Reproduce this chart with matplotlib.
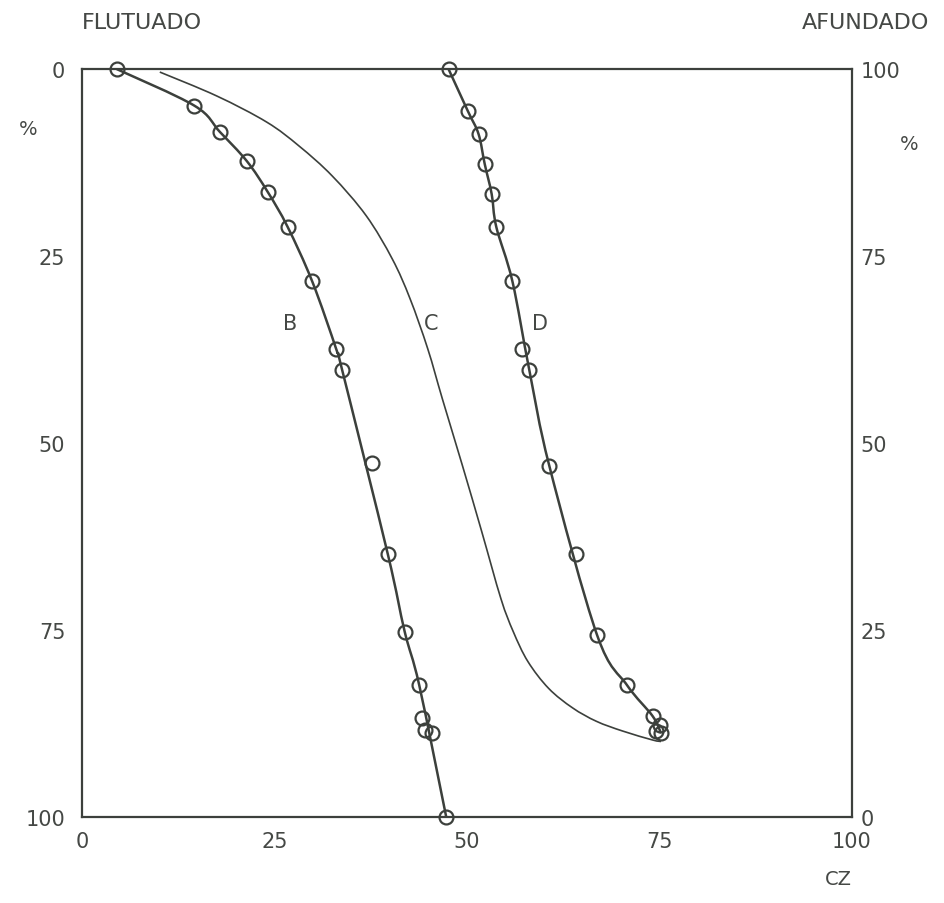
import numpy as np
import matplotlib.pyplot as plt
from matplotlib.path import Path
from matplotlib.patches import PathPatch

# curva B (flutuado) - pontos medidos
b_cz = [4.5, 14.6, 17.9, 21.4, 24.1, 26.7, 29.9, 33.0, 33.8, 37.6, 39.7, 41.9, 43.8, 44.1, 44.5, 45.4, 47.3]
b_pct = [0, 4.9, 8.4, 12.3, 16.4, 21.1, 28.4, 37.4, 40.3, 52.7, 64.8, 75.2, 82.4, 86.8, 88.4, 88.8, 100]

# curva D (afundado)
d_cz = [47.6, 50.1, 51.5, 52.3, 53.2, 53.8, 55.9, 57.1, 58.1, 60.7, 64.2, 66.9, 70.8, 74.1, 75.0, 74.6, 75.2]
d_pct = [0, 5.6, 8.7, 12.7, 16.7, 21.1, 28.4, 37.4, 40.3, 53.1, 64.8, 75.7, 82.4, 86.5, 87.7, 88.5, 88.8]

# curva C (sem pontos)
c_cz = [10.1, 17.5, 24.0, 28.2, 32.5, 36.9, 40.3, 42.6, 44.9, 46.8, 49.4, 51.9, 54.4, 56.0, 57.9,
        60.6, 63.7, 66.8, 70.2, 74.1, 75.2]
c_pct = [0.4, 3.6, 7.1, 10.3, 14.3, 19.6, 25.4, 30.7, 37.4, 44.1, 53.0, 61.8, 70.8, 75.2, 79.2,
         82.8, 85.4, 87.2, 88.5, 89.7, 89.9]

# which markers the drawn B/D curves pass through
b_line = [0, 1, 2, 3, 4, 5, 6, 7, 8, 10, 11, 12, 16]
d_line = [0, 1, 2, 3, 4, 5, 6, 8, 9, 11, 12, 13, 16]

ticks = [0, 25, 50, 75, 100]
ink = '#3c403c'
txt = '#454845'


def smooth_path(xs, ys):
    # Catmull-Rom -> bezier so the curve passes through every point
    p = np.column_stack([xs, ys]).astype(float)
    verts = [p[0]]
    codes = [Path.MOVETO]
    for i in range(len(p) - 1):
        p0 = p[i - 1] if i > 0 else p[i]
        p1, p2 = p[i], p[i + 1]
        p3 = p[i + 2] if i + 2 < len(p) else p[i + 1]
        verts += [p1 + (p2 - p0) / 6, p2 - (p3 - p1) / 6, p2]
        codes += [Path.CURVE4] * 3
    return Path(verts, codes)


fig = plt.figure(figsize=(9.45, 9.04), dpi=100)
ax = fig.add_axes([0.0868, 0.0951, 0.8148, 0.8274])
ax.set_xlim(0, 100)
ax.set_ylim(100, 0)

ax.add_patch(PathPatch(smooth_path([b_cz[i] for i in b_line], [b_pct[i] for i in b_line]),
                       fill=False, edgecolor=ink, lw=1.8))
ax.add_patch(PathPatch(smooth_path([d_cz[i] for i in d_line], [d_pct[i] for i in d_line]),
                       fill=False, edgecolor=ink, lw=1.8))
ax.add_patch(PathPatch(smooth_path(c_cz, c_pct), fill=False, edgecolor=ink, lw=1.2))

ax.plot(b_cz, b_pct, 'o', ms=10, mfc='none', mec=ink, mew=1.6, clip_on=False)
ax.plot(d_cz, d_pct, 'o', ms=10, mfc='none', mec=ink, mew=1.6, clip_on=False)

ax.text(27, 34, 'B', fontsize=15, color=txt, ha='center', va='center')
ax.text(45.4, 34, 'C', fontsize=15, color=txt, ha='center', va='center')
ax.text(59.5, 34, 'D', fontsize=15, color=txt, ha='center', va='center')

for s in ax.spines.values():
    s.set_color(ink)
    s.set_linewidth(1.6)

ax.set_xticks(ticks)
ax.set_yticks(ticks)
ax.tick_params(length=0, labelsize=15, labelcolor=txt, pad=10)
ax.tick_params(axis='y', pad=12)

ax2 = ax.twinx()
ax2.set_ylim(0, 100)
ax2.set_yticks(ticks)
ax2.tick_params(length=0, labelsize=15, labelcolor=txt, pad=6)
for s in ax2.spines.values():
    s.set_visible(False)

fig.text(0.087, 0.975, 'FLUTUADO', fontsize=16, color=txt, ha='left', va='center')
fig.text(0.983, 0.975, 'AFUNDADO', fontsize=16, color=txt, ha='right', va='center')
fig.text(0.03, 0.857, '%', fontsize=14, color=txt, ha='center', va='center')
fig.text(0.962, 0.84, '%', fontsize=14, color=txt, ha='center', va='center')
fig.text(0.887, 0.027, 'CZ', fontsize=14, color=txt, ha='center', va='center')

fig.savefig('out.png', dpi=100, facecolor='white')
